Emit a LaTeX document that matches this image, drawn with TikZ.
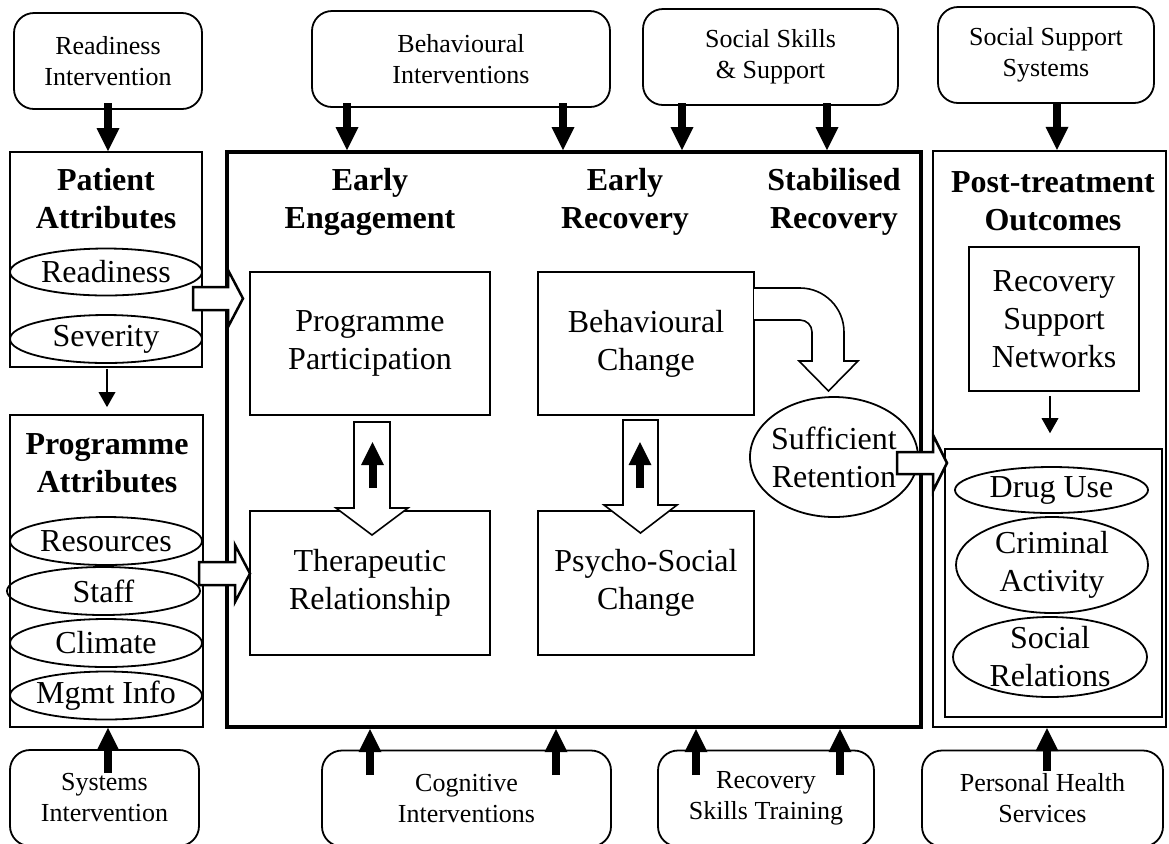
\documentclass[tikz,border=0pt]{standalone}
\usepackage{fontspec}
\setmainfont{Liberation Serif}
\usetikzlibrary{shapes.geometric,arrows.meta,calc}
\newcommand\fmain{\fontsize{16}{19}\selectfont}
\newcommand\fint{\fontsize{13}{15.5}\selectfont}
\newcommand\fhead{\fontsize{16}{19}\selectfont\bfseries}
\begin{document}
\begin{tikzpicture}[x=0.5pt,y=-0.5pt,
  box/.style={draw,line width=0.9pt,inner sep=0pt,align=center,font=\fmain},
  ibox/.style={draw,line width=0.9pt,rounded corners=10pt,inner sep=0pt,align=center,font=\fint,minimum height=48pt},
  ell/.style={draw,ellipse,line width=0.9pt,inner sep=-5pt,align=center,font=\fmain},
  head/.style={align=center,font=\fhead,inner sep=0pt},
  bigarr/.style={line width=4pt,-{Triangle[width=11.5pt,length=11.5pt,line width=0pt]}},
  thinarr/.style={line width=1.25pt,-{Triangle[width=8.5pt,length=7.5pt,line width=0pt]}},
  hollow/.style={draw,fill=white,line width=1.25pt,line join=miter},
  hollowthin/.style={draw,fill=white,line width=0.8pt,line join=miter},
]
\useasboundingbox (0,0) rectangle (1169,843);

% intervention boxes
\node[ibox,minimum width=94pt] (readint) at (108,61) {Readiness\\Intervention};
\node[ibox,minimum width=149pt] (behav) at (461,59) {Behavioural\\Interventions};
\node[ibox,minimum width=127.5pt] (socsk) at (770.5,57) {Social Skills\\\& Support};
\node[ibox,minimum width=108pt] (socsup) at (1046,55) {Social Support\\Systems};
\node[ibox,minimum width=94.5pt] (sysint) at (104.5,798) {Systems\\Intervention};
\node[ibox,minimum width=144.5pt] (cogn) at (466.5,798.5) {Cognitive\\Interventions};
\node[ibox,minimum width=108pt] (rst) at (766,798.5) {Recovery\\Skills Training};
\node[ibox,minimum width=120.5pt] (phs) at (1042.5,798.5) {Personal Health\\Services};

% large containers
\node[draw,line width=0.9pt,minimum width=96pt,minimum height=107.5pt,inner sep=0pt] (patient) at (106,259.5) {};
\node[draw,line width=0.9pt,minimum width=96.5pt,minimum height=156pt,inner sep=0pt] (progattr) at (106.5,571) {};
\node[draw,line width=2pt,minimum width=347pt,minimum height=287.5pt,inner sep=0pt] (main) at (574,439.5) {};
\node[draw,line width=1.2pt,minimum width=116.5pt,minimum height=288pt,inner sep=0pt] (post) at (1049.5,439) {};

% headings
\node[head] (hpat) at (106,199) {Patient\\Attributes};
\node[head] (hprog) at (107,463) {Programme\\Attributes};
\node[head] (hee) at (370,202) {Early\\Engagement};
\node[head] (her) at (625,202) {Early\\Recovery};
\node[head] (hsr) at (834,202) {Stabilised\\Recovery};
\node[head] (hpt) at (1053,201) {Post-treatment\\Outcomes};

% inner boxes
\node[box,minimum width=120pt,minimum height=71.5pt] (pp) at (370,343.5) {Programme\\Participation};
\node[box,minimum width=108pt,minimum height=71.5pt] (bc) at (646,343.5) {Behavioural\\Change};
\node[box,minimum width=120pt,minimum height=72pt] (tr) at (370,583) {Therapeutic\\Relationship};
\node[box,minimum width=108pt,minimum height=72pt] (psc) at (646,583) {Psycho-Social\\Change};
\node[box,minimum width=85pt,minimum height=72pt] (rsn) at (1054,319) {Recovery\\Support\\Networks};
\node[draw,line width=0.8pt,minimum width=108.5pt,minimum height=134pt,inner sep=0pt] (outc) at (1053.5,583) {};

% ellipses
\node[ell,minimum width=96pt,minimum height=23.5pt] (readiness) at (106,272) {Readiness};
\node[ell,minimum width=96pt,minimum height=24pt] (severity) at (106,339) {Severity};
\node[ell,minimum width=96pt,minimum height=24pt] (resources) at (106,541) {Resources};
\node[ell,minimum width=96.5pt,minimum height=24pt] (staff) at (103.5,591) {Staff};
\node[ell,minimum width=96pt,minimum height=24pt] (climate) at (106,643) {Climate};
\node[ell,minimum width=96pt,minimum height=24pt] (mgmt) at (106,695.5) {Mgmt Info};
\node[ell,minimum width=96.5pt,minimum height=23pt] (drug) at (1051.5,490) {Drug Use};
\node[ell,minimum width=96pt,minimum height=48pt] (crim) at (1052,565) {Criminal\\Activity};
\node[ell,minimum width=97pt,minimum height=40pt] (soc) at (1050,657) {Social\\Relations};
\node[ell,minimum width=84pt,minimum height=60pt] (ret) at (834,457) {Sufficient\\Retention};

% hollow block arrows
\draw[hollow] (193,287) -- (228,287) -- (228,270) -- (243,298.5) -- (228,327) -- (228,310) -- (193,310) -- cycle;
\draw[hollow] (199,562) -- (235,562) -- (235,545) -- (250,573.5) -- (235,602) -- (235,585) -- (199,585) -- cycle;
\draw[hollow] (897,452) -- (933,452) -- (933,435) -- (947,463) -- (933,491) -- (933,474) -- (897,474) -- cycle;
\draw[hollowthin] (354,422) -- (390,422) -- (390,508) -- (408,508) -- (372,535) -- (336,508) -- (354,508) -- cycle;
\draw[hollowthin] (623,420) -- (658,420) -- (658,505) -- (677,505) -- (640.5,533) -- (604,505) -- (623,505) -- cycle;
\draw[hollowthin] (754,288) -- (800,288) arc[start angle=-90,end angle=0,radius=44] -- (844,361) -- (858,361) -- (828.5,391) -- (799,361) -- (812,361) -- (812,332) arc[start angle=0,end angle=-90,radius=12] -- (754,320);

% small solid arrows inside hollow ones
\coordinate (u1) at (372.5,488);
\coordinate (u2) at (640,488);
\draw[bigarr] (u1) -- ++(0,-46);
\draw[bigarr] (u2) -- ++(0,-46);

% start points of intervention arrows
\coordinate (sa) at (108,103);
\coordinate (sb1) at (347,103);
\coordinate (sb2) at (563,103);
\coordinate (ss1) at (682,103);
\coordinate (ss2) at (827,103);
\coordinate (sss) at (1057,103);
\coordinate (sy) at (108,773);
\coordinate (sc1) at (370,775);
\coordinate (sc2) at (556,775);
\coordinate (sr1) at (696,775);
\coordinate (sr2) at (840,775);
\coordinate (sp) at (1047,771);
\coordinate (xa) at (107,0);
\coordinate (xn) at (1050,0);

% solid arrows
\draw[bigarr] (sa) -- (patient.north -| sa);
\draw[bigarr] (sb1) -- (main.north -| sb1);
\draw[bigarr] (sb2) -- (main.north -| sb2);
\draw[bigarr] (ss1) -- (main.north -| ss1);
\draw[bigarr] (ss2) -- (main.north -| ss2);
\draw[bigarr] (sss) -- (post.north -| sss);
\draw[bigarr] (sy) -- (progattr.south -| sy);
\draw[bigarr] (sc1) -- (main.south -| sc1);
\draw[bigarr] (sc2) -- (main.south -| sc2);
\draw[bigarr] (sr1) -- (main.south -| sr1);
\draw[bigarr] (sr2) -- (main.south -| sr2);
\draw[bigarr] (sp) -- (post.south -| sp);
\draw[thinarr,shorten <=0.5pt,shorten >=3.5pt] (patient.south -| xa) -- (progattr.north -| xa);
\draw[thinarr,shorten <=2pt,shorten >=7.5pt] (rsn.south -| xn) -- (outc.north -| xn);
\end{tikzpicture}
\end{document}
